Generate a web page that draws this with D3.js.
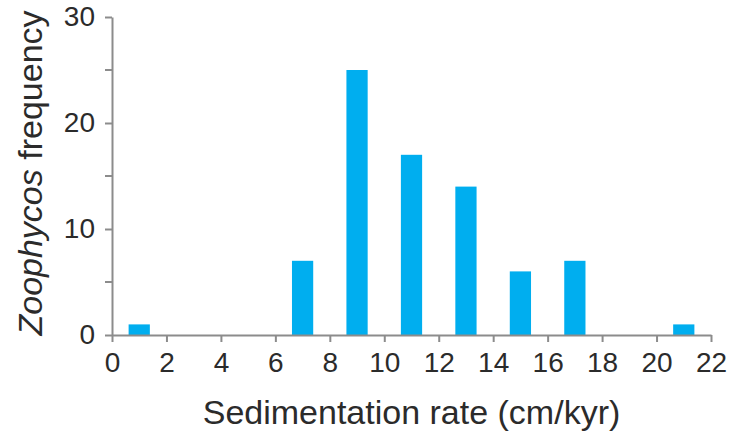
<!DOCTYPE html>
<html>
<head>
<meta charset="utf-8">
<script src="https://cdn.jsdelivr.net/npm/d3@7"></script>
<style>
  body { margin: 0; background: #fff; }
  svg { display: block; font-family: "Liberation Sans", Arial, sans-serif; }
</style>
</head>
<body>
<div id="chart"></div>
<script>
let width = 731,
    height = 434,
    margin = ({ top: 17, right: 20, bottom: 99, left: 112 });

// data
const rates = [1, 7, 9, 11, 13, 15, 17, 21];        // bin centres (cm/kyr)
const counts = [1, 7, 25, 17, 14, 6, 7, 1];          // Zoophycos frequency
const xTicks = [0, 2, 4, 6, 8, 10, 12, 14, 16, 18, 20, 22];
const yTicks = [0, 10, 20, 30];
const yMinor = [5, 15, 25];

const svg = d3.select("#chart")
  .append("svg")
  .attr("width", width)
  .attr("height", height);

let x = d3.scaleLinear()
  .domain([0, 22])
  .range([112, 711]);

let y = d3.scaleLinear()
  .domain([0, 30])
  .range([335, 17]);

const barW = 0.78; // in data units

// bars
svg.append("g")
  .attr("fill", "#00aeef")
  .selectAll("rect")
  .data(rates)
  .join("rect")
  .attr("x", d => x(d - barW / 2))
  .attr("width", d => x(d + barW / 2) - x(d - barW / 2))
  .attr("y", (d, i) => y(counts[i]))
  .attr("height", (d, i) => y(0) - y(counts[i]));

// x axis
const gx = svg.append("g")
  .attr("transform", `translate(0,${y(0)})`)
  .call(d3.axisBottom(x).tickValues(xTicks).tickSize(7).tickPadding(10).tickSizeOuter(0));

// y axis
const gy = svg.append("g")
  .attr("transform", `translate(${x(0)},0)`)
  .call(d3.axisLeft(y).tickValues(yTicks).tickSize(7).tickPadding(10).tickSizeOuter(0));

gy.append("g")
  .selectAll("line")
  .data(yMinor)
  .join("line")
  .attr("x1", -7)
  .attr("x2", 0)
  .attr("y1", d => y(d))
  .attr("y2", d => y(d));

[gx, gy].forEach(g => {
  g.selectAll(".domain").attr("stroke", "#8c8c8c").attr("stroke-width", 2);
  g.selectAll("line").attr("stroke", "#8c8c8c").attr("stroke-width", 2);
  g.selectAll("text")
    .attr("fill", "#2b2b2b")
    .style("font-size", "28px")
    .style("font-family", "'Liberation Sans', Arial, sans-serif");
});

// axis titles
svg.append("text")
  .attr("x", (x(0) + x(22)) / 2)
  .attr("y", 424)
  .attr("text-anchor", "middle")
  .attr("fill", "#2b2b2b")
  .style("font-size", "34px")
  .text("Sedimentation rate (cm/kyr)");

const yl = svg.append("text")
  .attr("transform", `translate(42,173) rotate(-90)`)
  .attr("text-anchor", "middle")
  .attr("fill", "#2b2b2b")
  .style("font-size", "34px");
yl.append("tspan").attr("font-style", "italic").text("Zoophycos");
yl.append("tspan").text(" frequency");
</script>
</body>
</html>
